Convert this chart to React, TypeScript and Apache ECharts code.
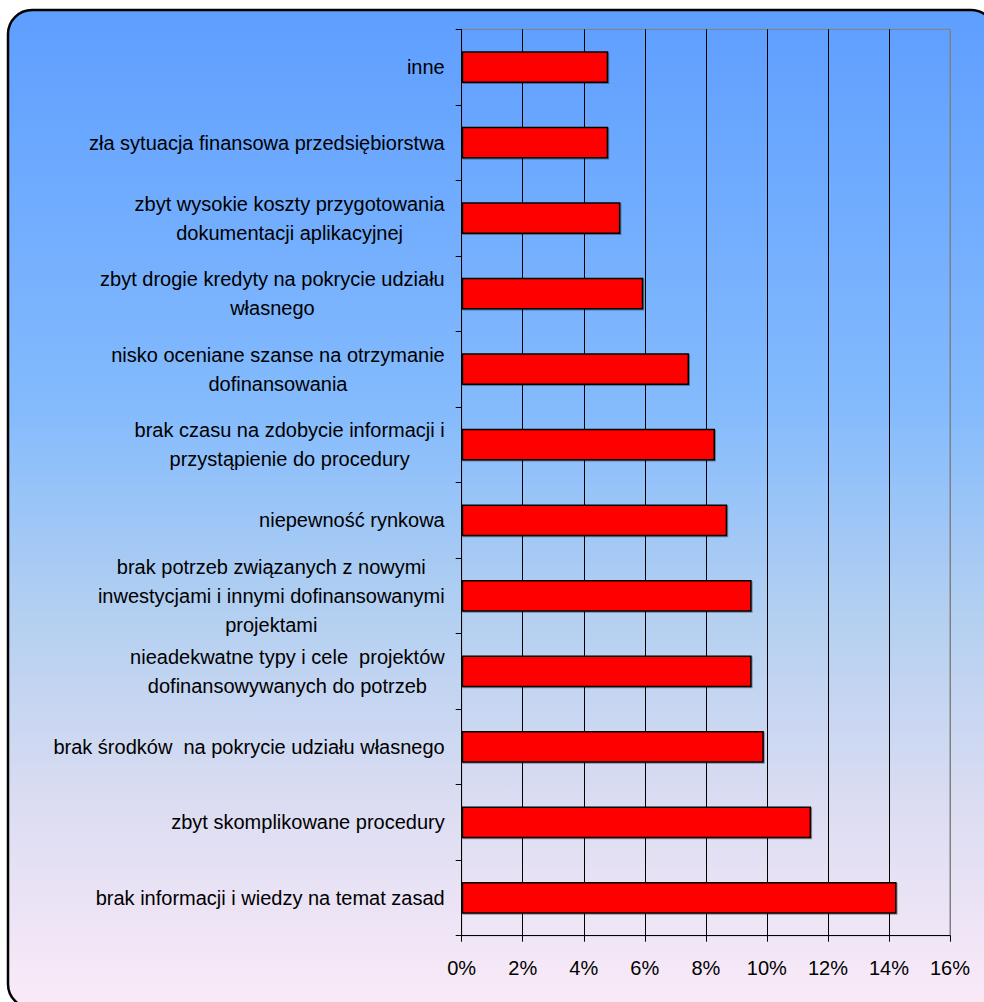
import React, { useEffect, useRef } from "react";
import * as echarts from "echarts";

const categories: string[] = [
  "inne",
  "zła sytuacja finansowa przedsiębiorstwa",
  "zbyt wysokie koszty przygotowania\ndokumentacji aplikacyjnej",
  "zbyt drogie kredyty na pokrycie udziału\nwłasnego",
  "nisko oceniane szanse na otrzymanie\ndofinansowania",
  "brak czasu na zdobycie informacji i\nprzystąpienie do procedury",
  "niepewność rynkowa",
  "brak potrzeb związanych z nowymi\ninwestycjami i innymi dofinansowanymi\nprojektami",
  "nieadekwatne typy i cele  projektów\ndofinansowywanych do potrzeb",
  "brak środków  na pokrycie udziału własnego",
  "zbyt skomplikowane procedury",
  "brak informacji i wiedzy na temat zasad",
];

const values: number[] = [4.8, 4.8, 5.2, 5.95, 7.45, 8.3, 8.7, 9.5, 9.5, 9.9, 11.45, 14.25];

const xTicks: number[] = [0, 2, 4, 6, 8, 10, 12, 14, 16];

const FONT = "'Liberation Sans', Arial, sans-serif";

export default function App() {
  const ref = useRef<HTMLDivElement>(null);

  useEffect(() => {
    if (!ref.current) return;
    const chart = echarts.init(ref.current, undefined, { renderer: "svg" });
    const splitColors = xTicks.map((t, i) => (i === xTicks.length - 1 ? "#808080" : "#000000"));
    chart.setOption({
      animation: false,
      graphic: [
        {
          type: "rect",
          z: -10,
          shape: { x: 8, y: 10, width: 987, height: 998, r: 24 },
          style: {
            fill: new echarts.graphic.LinearGradient(0, 0, 0, 1, [
              { offset: 0, color: "#5E9EFF" },
              { offset: 0.4, color: "#84BBFD" },
              { offset: 0.6, color: "#B2CFF1" },
              { offset: 0.8, color: "#DCDDF2" },
              { offset: 1, color: "#FBEAF8" },
            ]),
            stroke: "#000000",
            lineWidth: 2.5,
          },
          silent: true,
        },
      ],
      grid: {
        left: 461.7,
        right: 34,
        top: 29.3,
        bottom: 66.3,
        show: true,
        borderColor: "#808080",
        borderWidth: 1,
        backgroundColor: "transparent",
      },
      xAxis: {
        type: "value",
        min: 0,
        max: 16,
        interval: 2,
        axisLine: { show: true, lineStyle: { color: "#000", width: 1 } },
        axisTick: { show: true, length: 6, lineStyle: { color: "#000" } },
        axisLabel: {
          formatter: (v: number) => `${v}%`,
          color: "#000",
          fontFamily: FONT,
          fontSize: 20,
          margin: 22,
        },
        splitLine: { show: true, lineStyle: { color: splitColors, width: 1 } },
      },
      yAxis: {
        type: "category",
        inverse: true,
        data: categories,
        axisLine: { show: true, lineStyle: { color: "#000", width: 1 } },
        axisTick: { show: true, length: 6, lineStyle: { color: "#000" } },
        axisLabel: {
          margin: 17,
          color: "#000",
          fontFamily: FONT,
          fontSize: 20,
          interval: 0,
          formatter: (v: string) =>
            v
              .split("\n")
              .map((l) => `{c|${l}}`)
              .join("\n"),
          rich: {
            c: {
              align: "center",
              fontFamily: FONT,
              fontSize: 20,
              lineHeight: 29,
              color: "#000",
            },
          },
        },
        splitLine: { show: false },
      },
      series: [
        {
          type: "bar",
          data: values,
          barCategoryGap: "58%",
          itemStyle: {
            color: "#FF0000",
            borderColor: "#000000",
            borderWidth: 1.5,
            shadowColor: "rgba(0,0,0,0.35)",
            shadowOffsetX: 1,
            shadowOffsetY: 1,
            shadowBlur: 1,
          },
          z: 3,
        },
      ],
    });
    return () => chart.dispose();
  }, []);

  return (
    <div
      style={{ position: "fixed", left: 0, top: 0, width: 984, height: 1002, overflow: "hidden", background: "#fff" }}
    >
      <div ref={ref} style={{ width: 984, height: 1002 }} />
    </div>
  );
}
